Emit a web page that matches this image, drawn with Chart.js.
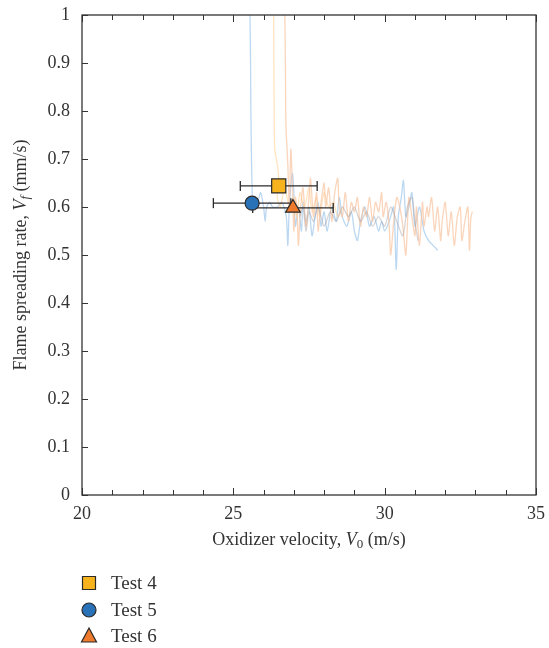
<!DOCTYPE html>
<html lang="en">
<head>
<meta charset="UTF-8">
<title>Flame spreading rate</title>
<script src="https://cdn.jsdelivr.net/npm/chart.js"></script>
<style>
  body { margin: 0; background: #fff; }
  .box { position: relative; width: 549px; height: 648px; }
</style>
</head>
<body>
<div class="box"><canvas id="myChart"></canvas></div>
<script>
  // mean values of each test, with x error (+/-)
  var tests = ['Test 4', 'Test 5', 'Test 6']
  var testX = [26.5, 25.62, 26.97]
  var testY = [0.644, 0.608, 0.598]
  var testErr = [1.27, 1.28, 1.33]
  var testColor = ['#f6b31d', '#2a72b8', '#ee7a2e']
  var testShape = ['rect', 'circle', 'triangle']

  // raw traces (x = velocity, y = spreading rate)
  var blueX = [25.55, 25.57, 25.58, 25.6, 25.62, 25.65, 25.8, 25.9, 26.0, 26.05, 26.1, 26.2, 26.3, 26.45, 26.6, 26.75, 26.8, 26.85, 26.95, 27.0, 27.05, 27.15, 27.25, 27.3, 27.4, 27.5, 27.6, 27.7, 27.8, 27.9, 28.0, 28.1, 28.25, 28.4, 28.5, 28.6, 28.75, 28.9, 29.0, 29.1, 29.2, 29.35, 29.5, 29.65, 29.8, 29.9, 30.0, 30.15, 30.3, 30.38, 30.45, 30.55, 30.62, 30.7, 30.8, 30.9, 31.0, 31.15, 31.3, 31.45, 31.6, 31.75]
  var blueY = [1.0, 0.9, 0.8, 0.7, 0.64, 0.6, 0.61, 0.63, 0.6, 0.57, 0.6, 0.61, 0.6, 0.6, 0.61, 0.58, 0.52, 0.6, 0.67, 0.63, 0.56, 0.6, 0.55, 0.61, 0.57, 0.6, 0.54, 0.58, 0.61, 0.56, 0.59, 0.55, 0.6, 0.57, 0.62, 0.58, 0.56, 0.59, 0.55, 0.53, 0.57, 0.6, 0.56, 0.58, 0.55, 0.57, 0.55, 0.57, 0.6, 0.47, 0.58, 0.62, 0.655, 0.58, 0.6, 0.63, 0.56, 0.6, 0.55, 0.53, 0.52, 0.51]

  var yellowX = [26.33, 26.34, 26.35, 26.37, 26.45, 26.5, 26.45, 26.55, 26.7, 26.85, 27.0, 27.1, 27.2, 27.35, 27.5, 27.6, 27.75, 27.85, 28.0, 28.15, 28.3, 28.45, 28.6]
  var yellowY = [1.0, 0.9, 0.8, 0.72, 0.69, 0.66, 0.62, 0.6, 0.64, 0.6, 0.62, 0.58, 0.63, 0.6, 0.64, 0.59, 0.62, 0.58, 0.63, 0.6, 0.61, 0.58, 0.6]

  var salmonX = [26.7, 26.72, 26.73, 26.75, 26.8, 26.85, 26.9, 26.95, 27.0, 27.05, 27.1, 27.15, 27.2, 27.3, 27.4, 27.5, 27.55, 27.65, 27.75, 27.8, 27.9, 28.0, 28.05, 28.15, 28.25, 28.35, 28.45, 28.5, 28.6, 28.7, 28.8, 28.9, 29.0, 29.1, 29.2, 29.3, 29.4, 29.5, 29.6, 29.7, 29.8, 29.9, 29.95, 30.05, 30.15, 30.2, 30.3, 30.4, 30.5, 30.6, 30.7, 30.8, 30.9, 31.0, 31.05, 31.15, 31.25, 31.3, 31.4, 31.45, 31.55, 31.65, 31.75, 31.85, 31.9, 32.0, 32.1, 32.2, 32.3, 32.4, 32.5, 32.55, 32.65, 32.75, 32.8, 32.85, 32.9]
  var salmonY = [1.0, 0.9, 0.8, 0.75, 0.69, 0.6, 0.72, 0.65, 0.55, 0.62, 0.6, 0.52, 0.58, 0.64, 0.56, 0.62, 0.66, 0.58, 0.63, 0.55, 0.61, 0.65, 0.6, 0.64, 0.57, 0.63, 0.66, 0.6, 0.58, 0.63, 0.57, 0.61, 0.59, 0.62, 0.56, 0.6, 0.58, 0.62, 0.57, 0.61, 0.59, 0.63, 0.58, 0.61, 0.56, 0.5, 0.57, 0.62, 0.6, 0.56, 0.5, 0.62, 0.58, 0.54, 0.6, 0.52, 0.61, 0.56, 0.6, 0.58, 0.62, 0.55, 0.6, 0.53, 0.57, 0.61, 0.54, 0.59, 0.52, 0.58, 0.6, 0.53, 0.57, 0.6, 0.51, 0.58, 0.59]

  var grayX = [27.2, 27.3, 27.4, 27.5, 27.65, 27.8, 28.0, 28.2, 28.4, 28.6, 28.8, 29.0, 29.2, 29.4, 29.6, 29.8, 30.0, 30.2, 30.4, 30.6, 30.75, 30.9, 31.0, 31.1]
  var grayY = [0.58, 0.6, 0.55, 0.59, 0.57, 0.6, 0.56, 0.59, 0.57, 0.6, 0.58, 0.6, 0.57, 0.59, 0.56, 0.58, 0.56, 0.6, 0.57, 0.54, 0.6, 0.62, 0.57, 0.53]

  var xTicks = [20, 25, 30, 35]

  function pts(xs, ys) {
    return xs.map((x, i) => ({ x: x, y: ys[i] }))
  }

  function trace(xs, ys, color, order) {
    return {
      label: '', data: pts(xs, ys), showLine: true, borderColor: color,
      borderWidth: 1.3, pointRadius: 0, tension: 0.25, order: order
    }
  }

  var datasets = [
    trace(blueX, blueY, 'rgba(165,203,236,0.75)', 5),
    trace(yellowX, yellowY, 'rgba(255,216,165,0.7)', 4),
    trace(salmonX, salmonY, 'rgba(248,195,158,0.7)', 3),
    trace(grayX, grayY, 'rgba(160,150,155,0.4)', 2)
  ]

  // error bars
  tests.forEach((t, i) => {
    datasets.push({
      label: '', data: [{ x: testX[i] - testErr[i], y: testY[i] }, { x: testX[i] + testErr[i], y: testY[i] }],
      showLine: true, borderColor: '#2a2a2a', borderWidth: 1.3,
      pointStyle: 'line', rotation: 90, pointRadius: 5, pointBorderColor: '#2a2a2a',
      pointBorderWidth: 1.3, order: 1
    })
  })
  // markers
  var markerRadius = { rect: 10, circle: 7, triangle: 8.5 }
  tests.forEach((t, i) => {
    datasets.push({
      label: t, data: [{ x: testX[i], y: testY[i] }], showLine: false,
      pointStyle: testShape[i], pointRadius: markerRadius[testShape[i]],
      pointBackgroundColor: testColor[i], pointBorderColor: '#2a2a2a', pointBorderWidth: 1.2,
      order: 0
    })
  })

  var serif = '"Liberation Serif", "DejaVu Serif", serif'

  function richText(ctx, parts, cx, cy) {
    var w = 0
    parts.forEach(p => { ctx.font = p.font; w += ctx.measureText(p.t).width })
    var x = cx - w / 2
    parts.forEach(p => {
      ctx.font = p.font
      ctx.fillText(p.t, x, cy + (p.dy || 0))
      x += ctx.measureText(p.t).width
    })
  }

  var decor = {
    id: 'decor',
    afterDraw(chart) {
      var ctx = chart.ctx
      var a = chart.chartArea
      var sx = chart.scales.x, sy = chart.scales.y
      ctx.save()
      ctx.strokeStyle = '#333'
      ctx.lineWidth = 1.3
      ctx.strokeRect(a.left, a.top, a.right - a.left, a.bottom - a.top)
      ctx.lineWidth = 1
      ctx.beginPath()
      sx.ticks.forEach(t => {
        var px = Math.round(sx.getPixelForValue(t.value)) + 0.5
        var len = xTicks.includes(t.value) ? 7 : 5
        ctx.moveTo(px, a.bottom); ctx.lineTo(px, a.bottom - len)
        ctx.moveTo(px, a.top); ctx.lineTo(px, a.top + len)
      })
      sy.ticks.forEach(t => {
        var py = Math.round(sy.getPixelForValue(t.value)) + 0.5
        ctx.moveTo(a.left, py); ctx.lineTo(a.left + 6, py)
      })
      ctx.stroke()

      // axis titles
      ctx.fillStyle = '#333'
      ctx.textBaseline = 'middle'
      ctx.textAlign = 'left'
      var f = '18px ' + serif, fi = 'italic 18px ' + serif, fs = 'italic 13px ' + serif, fsn = '13px ' + serif
      richText(ctx, [
        { t: 'Oxidizer velocity, ', font: f },
        { t: 'V', font: fi },
        { t: '0', font: fsn, dy: 5 },
        { t: ' (m/s)', font: f }
      ], (a.left + a.right) / 2, 540)
      ctx.save()
      ctx.translate(21, (a.top + a.bottom) / 2)
      ctx.rotate(-Math.PI / 2)
      richText(ctx, [
        { t: 'Flame spreading rate, ', font: f },
        { t: 'V', font: fi },
        { t: 'f', font: fs, dy: 5 },
        { t: ' (mm/s)', font: f }
      ], 0, 0)
      ctx.restore()

      // legend
      var ly = [583, 610, 636]
      tests.forEach((t, i) => {
        var x = 89, y = ly[i]
        ctx.fillStyle = testColor[i]
        ctx.strokeStyle = '#2a2a2a'
        ctx.lineWidth = 1.2
        ctx.beginPath()
        if (testShape[i] == 'rect') ctx.rect(x - 6.5, y - 6.5, 13, 13)
        else if (testShape[i] == 'circle') ctx.arc(x, y, 7, 0, Math.PI * 2)
        else { ctx.moveTo(x, y - 8); ctx.lineTo(x + 7.5, y + 6); ctx.lineTo(x - 7.5, y + 6); ctx.closePath() }
        ctx.fill(); ctx.stroke()
        ctx.fillStyle = '#333'
        ctx.font = '19px ' + serif
        ctx.fillText(t, 111, y + 1)
      })
      ctx.restore()
    }
  }

  const ctx = document.getElementById('myChart')
  new Chart(ctx, {
    type: 'scatter',
    data: { datasets: datasets },
    plugins: [decor],
    options: {
      responsive: true,
      maintainAspectRatio: false,
      animation: false,
      layout: { padding: { top: 15, right: 13, left: 0, bottom: 0 } },
      plugins: { legend: { display: false }, tooltip: { enabled: false } },
      scales: {
        x: {
          type: 'linear', min: 20, max: 35,
          afterFit(s) { s.height = 153; s.paddingLeft = 0; s.paddingRight = 0 },
          grid: { display: false, drawTicks: false },
          border: { display: false },
          ticks: {
            stepSize: 1, autoSkip: false, maxRotation: 0, padding: 8,
            color: '#333', font: { family: serif, size: 18 },
            callback: v => xTicks.includes(v) ? String(v) : ''
          }
        },
        y: {
          type: 'linear', min: 0, max: 1,
          afterFit(s) { s.width = 82; s.paddingTop = 0; s.paddingBottom = 0 },
          grid: { display: false, drawTicks: false },
          border: { display: false },
          ticks: {
            stepSize: 0.1, autoSkip: false, padding: 12,
            color: '#333', font: { family: serif, size: 18 },
            callback: v => String(Math.round(v * 10) / 10)
          }
        }
      }
    }
  })
</script>
</body>
</html>
